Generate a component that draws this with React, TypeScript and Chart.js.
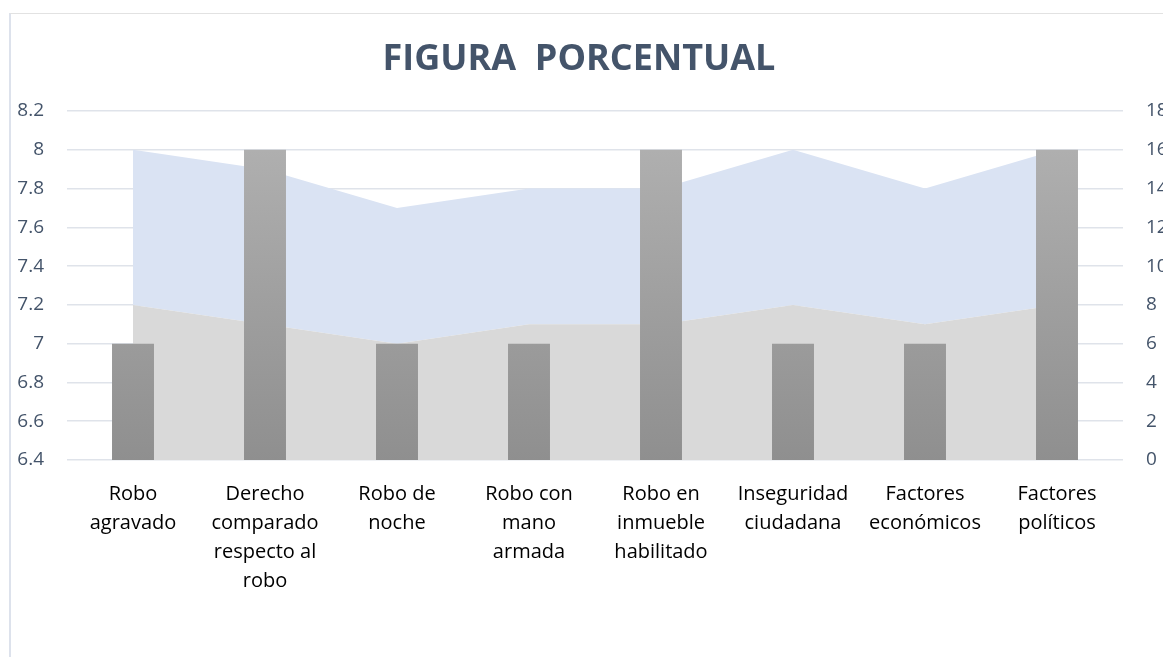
import React, { useEffect, useRef } from "react";
import { Chart, registerables } from "chart.js";

Chart.register(...registerables);

const titleText = "FIGURA  PORCENTUAL";

const categories: string[][] = [
  ["Robo", "agravado"],
  ["Derecho", "comparado", "respecto al", "robo"],
  ["Robo de", "noche"],
  ["Robo con", "mano", "armada"],
  ["Robo en", "inmueble", "habilitado"],
  ["Inseguridad", "ciudadana"],
  ["Factores", "económicos"],
  ["Factores", "políticos"],
];

// Bars (left axis)
const barValues = [7, 8, 7, 7, 8, 7, 7, 8];
// Stacked areas (right axis)
const grayAreaValues = [8, 7, 6, 7, 7, 8, 7, 8];
const blueAreaValues = [8, 8, 7, 7, 7, 8, 7, 8];

const leftTicks = [6.4, 6.6, 6.8, 7, 7.2, 7.4, 7.6, 7.8, 8, 8.2];
const rightTicks = [0, 2, 4, 6, 8, 10, 12, 14, 16, 18];

const W = 1200;
const H = 657;
const PLOT_LEFT = 67;
const PLOT_RIGHT = 1123;
const PLOT_TOP = 111;
const PLOT_BOTTOM = 460;

const titlePlugin = {
  id: "customTitle",
  afterDraw(chart: any) {
    const c = chart.ctx;
    c.save();
    c.font = "bold 36px 'Open Sans'";
    c.fillStyle = "#44546a";
    c.textAlign = "center";
    c.textBaseline = "middle";
    c.fillText(titleText, 579, 60);
    c.restore();
  },
};

export default function App() {
  const ref = useRef<HTMLCanvasElement | null>(null);

  useEffect(() => {
    if (!ref.current) return;
    const ctx = ref.current.getContext("2d")!;
    const chart = new Chart(ctx, {
      data: {
        labels: categories,
        datasets: [
          {
            type: "bar",
            data: barValues,
            yAxisID: "y",
            order: 0,
            backgroundColor: (c: any) => {
              const area = c.chart.chartArea;
              if (!area) return "#a0a0a0";
              const g = c.chart.ctx.createLinearGradient(0, area.top, 0, area.bottom);
              g.addColorStop(0, "#b3b3b3");
              g.addColorStop(1, "#8f8f8f");
              return g;
            },
            borderWidth: 0,
            barPercentage: 0.318,
            categoryPercentage: 1,
          },
          {
            type: "line",
            data: grayAreaValues,
            yAxisID: "y2",
            order: 1,
            stack: "area",
            fill: "origin",
            backgroundColor: "#d9d9d9",
            borderWidth: 0,
            pointRadius: 0,
            tension: 0,
          },
          {
            type: "line",
            data: blueAreaValues,
            yAxisID: "y2",
            order: 2,
            stack: "area",
            fill: "-1",
            backgroundColor: "#dae3f3",
            borderWidth: 0,
            pointRadius: 0,
            tension: 0,
          },
        ],
      } as any,
      plugins: [titlePlugin],
      options: {
        animation: false,
        responsive: false,
        maintainAspectRatio: false,
        layout: { padding: { top: PLOT_TOP, left: 0, right: 0, bottom: 0 } },
        plugins: {
          legend: { display: false },
          tooltip: { enabled: false },
          title: { display: false },
        },
        scales: {
          x: {
            offset: true,
            grid: { display: false },
            border: { display: false },
            ticks: {
              color: "#000000",
              font: { family: "Open Sans", size: 20, lineHeight: 1.45 },
              maxRotation: 0,
              autoSkip: false,
              padding: 12,
            },
            afterFit: (s: any) => {
              s.height = H - PLOT_BOTTOM;
            },
          },
          y: {
            position: "left",
            min: 6.4,
            max: 8.2,
            afterBuildTicks: (s: any) => {
              s.ticks = leftTicks.map((v) => ({ value: v }));
            },
            grid: { color: "#dfe3ea", lineWidth: 1.5, drawTicks: false },
            border: { display: false },
            ticks: {
              color: "#44546a",
              font: { family: "Open Sans", size: 19 },
              padding: 23,
              callback: (v: any) => String(Math.round(Number(v) * 10) / 10),
            },
            afterFit: (s: any) => {
              s.width = PLOT_LEFT;
            },
          },
          y2: {
            position: "right",
            min: 0,
            max: 18,
            stacked: true,
            afterBuildTicks: (s: any) => {
              s.ticks = rightTicks.map((v) => ({ value: v }));
            },
            grid: { display: false, drawTicks: false },
            border: { display: false },
            ticks: {
              color: "#44546a",
              font: { family: "Open Sans", size: 19 },
              padding: 23,
            },
            afterFit: (s: any) => {
              s.width = W - PLOT_RIGHT;
            },
          },
        },
      } as any,
    });
    return () => chart.destroy();
  }, []);

  return (
    <div
      style={{
        position: "fixed",
        left: 0,
        top: 0,
        width: 1163,
        height: 657,
        overflow: "hidden",
        background: "#ffffff",
      }}
    >
      <div
        style={{
          position: "absolute",
          left: 9,
          top: 13,
          width: 1300,
          height: 800,
          borderLeft: "2px solid #dde2ec",
          borderTop: "1px solid #e2e2e2",
        }}
      />
      <canvas
        ref={ref}
        width={W}
        height={H}
        style={{ position: "absolute", left: 0, top: 0, width: W, height: H }}
      />
    </div>
  );
}
